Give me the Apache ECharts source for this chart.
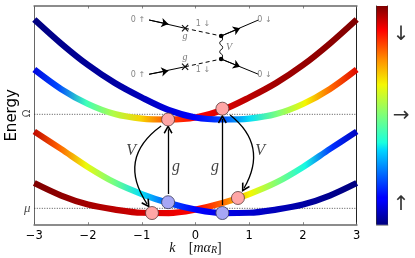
<!DOCTYPE html>
<html><head><meta charset="utf-8">
<style>html,body{margin:0;padding:0;background:#fff}#c{width:415px;height:258px}</style>
<script src="https://cdn.jsdelivr.net/npm/echarts@6/dist/echarts.min.js"></script>
</head><body><div id="c"></div>
<script>
const kValues=[-3,-2.5,-2,-1.5,-1,-0.5,0,0.5,1,1.5,2,2.5,3];
// energy (mu = 0, Omega = 1)
const upperA=[2.009,1.753,1.524,1.333,1.179,1.046,0.966,0.945,0.955,1.003,1.110,1.269,1.477];
const upperB=[1.477,1.269,1.110,1.003,0.955,0.945,0.966,1.046,1.179,1.333,1.524,1.753,2.009];
const lowerD=[0.817,0.631,0.439,0.274,0.152,0.056,-0.013,-0.050,-0.047,-0.013,0.040,0.136,0.269];
const lowerC=[0.269,0.136,0.040,-0.013,-0.047,-0.050,-0.013,0.056,0.152,0.274,0.439,0.631,0.817];
// spin polarisation along each curve (0 = up, 1 = down)
const spinA=[0,0.01,0.02,0.03,0.05,0.08,0.11,0.2,0.35,0.5,0.64,0.8,0.92];
const spinB=[0.08,0.2,0.42,0.56,0.68,0.82,0.89,0.92,0.95,0.97,0.98,0.99,1];
const spinD=[0.95,0.8,0.63,0.49,0.35,0.21,0.11,0.09,0.07,0.05,0.03,0.01,0];
const spinC=[1,0.99,0.97,0.95,0.93,0.91,0.89,0.79,0.64,0.5,0.37,0.17,0.05];
const xTicks=[-3,-2,-1,0,1,2,3];
const levelValues=[0,1];
const levelLabels=['μ','Ω'];
const pinkPoints=[[-0.51,0.945],[0.5,1.06],[-0.81,-0.05],[0.79,0.11]];
const bluePoints=[[-0.51,0.065],[0.5,-0.05]];
const gArrows=[[[-0.51,0.152],[-0.51,0.84]],[[0.5,0.035],[0.5,0.95]]];
const vArrows=[[[-0.64,0.875],[-0.90,0.046]],[[0.645,0.993],[0.905,0.216]]];
const fSolid=[[[-0.864,2.003],[-0.194,1.915]],[[-0.864,1.426],[-0.194,1.506]],[[0.477,1.833],[1.171,2.003]],[[0.477,1.588],[1.171,1.426]]];
const fHeads=[[[-0.864,2.003],[-0.505,1.96]],[[-0.864,1.426],[-0.505,1.464]],[[0.477,1.833],[0.83,1.915]],[[0.477,1.588],[0.83,1.506]]];
const fDashed=[[[-0.194,1.915],[0.477,1.833]],[[-0.194,1.506],[0.477,1.588]]];
const fWave=[[0.477,1.833],[0.505,1.80],[0.45,1.76],[0.505,1.71],[0.45,1.665],[0.505,1.62],[0.477,1.588]];
const fCrosses=[[-0.194,1.915],[-0.194,1.506]];
const fDots=[[0.477,1.833],[0.477,1.588]];
const smallLabels=[[-1.07,2.009,'0 ↑'],[-1.07,1.418,'0 ↑'],[0.14,1.957,'1 ↓'],[0.14,1.471,'1 ↓'],[1.283,2.009,'0 ↓'],[1.283,1.418,'0 ↓']];
const smallMath=[[-0.194,1.826,'g'],[-0.194,1.602,'g'],[0.626,1.709,'V']];
const bigMath=[[-1.2,0.61,'V'],[-0.361,0.44,'g'],[0.365,0.44,'g'],[1.205,0.61,'V']];
const cbTicks=[0.09,0.5,0.87];
const cbLabels=['↑','→','↓'];

const jetStops=[[0,'#00007f'],[0.11,'#0000ff'],[0.125,'#0000ff'],[0.34,'#00d5ff'],[0.375,'#19ffde'],[0.5,'#7dff7a'],[0.64,'#f4f802'],[0.75,'#ff9400'],[0.89,'#ff0000'],[1,'#7f0000']];
function jet(v){
  for(let i=1;i<jetStops.length;i++){
    if(v<=jetStops[i][0]){
      const a=jetStops[i-1],b=jetStops[i],t=(v-a[0])/(b[0]-a[0]||1);
      const p=s=>[1,3,5].map(j=>parseInt(s.substr(j,2),16));
      const ca=p(a[1]),cb=p(b[1]);
      return 'rgb('+ca.map((c,j)=>Math.round(c+(cb[j]-c)*t)).join(',')+')';
    }
  }
  return jetStops[jetStops.length-1][1];
}
const dark='#000';
function curve(y,spin){
  return {type:'line',data:kValues.map((k,i)=>[k,y[i]]),smooth:0.33,symbol:'none',z:3,
    lineStyle:{width:6.2,cap:'butt',color:{type:'linear',x:0,y:0,x2:1,y2:0,
      colorStops:kValues.map((k,i)=>({offset:(k+3)/6,color:jet(spin[i])}))}}};
}
function seg(list,style,sym,size,z){
  return {type:'lines',coordinateSystem:'cartesian2d',polyline:false,z:z||6,symbol:sym||['none','none'],symbolSize:size||1,
    lineStyle:Object.assign({color:dark,width:1,opacity:1},style),silent:true,
    data:list.map(c=>({coords:c}))};
}
function texts(list,font,z){
  return {type:'scatter',symbolSize:1,itemStyle:{color:'transparent'},z:z||8,silent:true,
    data:list.map(t=>({value:[t[0],t[1]],label:Object.assign({show:true,position:'inside',formatter:t[2]},font)}))};
}
const chevron='path://M50 0 L100 88 L86 100 L50 36 L14 100 L0 88 Z';
const axisGray='#8c8c8c';
const series=[
  {type:'line',data:[[-3,levelValues[0]],[3,levelValues[0]]],symbol:'none',z:2,lineStyle:{color:'#222',width:0.8,type:[1,1.5]}},
  {type:'line',data:[[-3,levelValues[1]],[3,levelValues[1]]],symbol:'none',z:2,lineStyle:{color:'#222',width:0.8,type:[1,1.5]}},
  curve(upperB,spinB),curve(upperA,spinA),curve(lowerC,spinC),curve(lowerD,spinD),
  seg(gArrows,{width:1.3},['none',chevron],9),
  seg(vArrows.slice(0,1),{width:1.3,curveness:-0.48},['none',chevron],9),
  seg(vArrows.slice(1),{width:1.3,curveness:0.43},['none',chevron],9),
  {type:'scatter',data:pinkPoints,symbolSize:13,z:7,itemStyle:{color:'#ffa6a6',borderColor:'#5a3a3a',borderWidth:0.8,opacity:1}},
  {type:'scatter',data:bluePoints,symbolSize:13,z:7,itemStyle:{color:'#a6a6f5',borderColor:'#3a3a5a',borderWidth:0.8,opacity:1}},
  seg(fSolid,{width:1}),
  seg(fHeads,{width:1},['none','arrow'],7),
  seg(fDashed,{width:1,type:[4,3]}),
  {type:'line',data:fWave,smooth:0.6,symbol:'none',z:6,lineStyle:{color:'#000',width:0.9}},
  {type:'scatter',data:fCrosses,symbol:'path://M0 12 L12 0 L100 88 L88 100 Z M88 0 L100 12 L12 100 L0 88 Z',symbolSize:7,z:7,itemStyle:{color:'#111',opacity:1}},
  {type:'scatter',data:fDots,symbolSize:4.5,z:7,itemStyle:{color:'#000',opacity:1}},
  texts(smallLabels,{fontFamily:'DejaVu Sans',fontSize:8,color:'#666'}),
  texts(smallMath,{fontFamily:'Liberation Serif',fontStyle:'italic',fontSize:10,color:'#555'}),
  texts(bigMath,{fontFamily:'Liberation Serif',fontStyle:'italic',fontSize:16,color:'#111'}),
  {type:'scatter',symbolSize:1,itemStyle:{color:'transparent'},z:8,silent:true,
    data:levelValues.map((v,i)=>({value:[-3,v],label:{show:true,position:'inside',formatter:levelLabels[i],
      offset:i?[1,-7]:[-7,0],rotate:i?90:0,fontFamily:i?'DejaVu Sans':'Liberation Serif',fontStyle:i?'normal':'italic',fontSize:i?10:13,color:'#222'}}))},
  {type:'bar',xAxisIndex:2,yAxisIndex:2,data:[1],barWidth:'100%',z:3,
    itemStyle:{color:{type:'linear',x:0,y:1,x2:0,y2:0,colorStops:jetStops.map(s=>({offset:s[0],color:s[1]}))}}}
];
const chart=echarts.init(document.getElementById('c'),null,{renderer:'canvas'});
const tick={show:true,inside:true,length:2.5,lineStyle:{color:'#555',width:0.7}};
chart.setOption({
  animation:false,backgroundColor:'#fff',
  grid:[{left:34.3,right:58.3,top:6,bottom:33.3,outerBoundsMode:'none'},{left:376.7,right:27.3,top:6,bottom:33.3,outerBoundsMode:'none'}],
  xAxis:[
   {gridIndex:0,type:'value',min:-3,max:3,interval:1,position:'bottom',splitLine:{show:false},
    axisLine:{onZero:false,lineStyle:{color:axisGray,width:2}},axisTick:tick,
    axisLabel:{show:true,margin:5,hideOverlap:false,showMinLabel:true,showMaxLabel:true,customValues:xTicks,fontFamily:'DejaVu Sans',fontSize:11.5,color:'#000',formatter:v=>String(v).replace('-','−')},
    name:'{i|k}    {n|[}{i|mα}{s|R}{n|]}',nameLocation:'middle',nameGap:17,nameMoveOverlap:false,
    nameTextStyle:{rich:{i:{fontFamily:'Liberation Serif',fontStyle:'italic',fontSize:14,color:'#111'},n:{fontFamily:'Liberation Serif',fontSize:14,color:'#111'},s:{fontFamily:'Liberation Serif',fontStyle:'italic',fontSize:10,color:'#111',verticalAlign:'bottom',lineHeight:10,padding:[5,0,0,0]}}}},
   {gridIndex:0,type:'value',min:-3,max:3,interval:1,position:'top',splitLine:{show:false},axisLabel:{show:false},
    axisLine:{onZero:false,lineStyle:{color:axisGray,width:2}},axisTick:tick},
   {gridIndex:1,type:'category',data:[''],position:'bottom',axisLabel:{show:false},axisTick:{show:false},
    axisLine:{onZero:false,lineStyle:{color:axisGray,width:1.5}}}
  ],
  yAxis:[
   {gridIndex:0,type:'value',min:-0.174,max:2.152,position:'left',splitLine:{show:false},axisLabel:{show:false},
    axisLine:{onZero:false,show:true,lineStyle:{color:'#666',width:1}},axisTick:{show:false},
    name:'Energy',nameLocation:'middle',nameGap:15,nameTextStyle:{fontFamily:'DejaVu Sans',fontSize:15,color:'#000'}},
   {gridIndex:0,type:'value',min:-0.174,max:2.152,position:'right',splitLine:{show:false},axisLabel:{show:false},
    axisLine:{onZero:false,show:true,lineStyle:{color:'#222',width:1}},axisTick:{show:false}},
   {gridIndex:1,type:'value',min:0,max:1,position:'right',splitLine:{show:false},
    axisLine:{onZero:false,show:true,lineStyle:{color:'#333',width:1}},
    axisTick:{show:true,inside:true,length:3,customValues:[0.5],lineStyle:{color:'#222',width:0.7}},
    axisLabel:{show:true,margin:5,customValues:cbTicks,hideOverlap:false,fontFamily:'DejaVu Sans',fontSize:20,color:'#333',
      formatter:v=>cbLabels[cbTicks.indexOf(v)]}},
   {gridIndex:1,type:'value',min:0,max:1,position:'left',splitLine:{show:false},axisLabel:{show:false},axisTick:{show:false},
    axisLine:{onZero:false,show:true,lineStyle:{color:'#333',width:1}}}
  ],
  series
});
</script></body></html>
